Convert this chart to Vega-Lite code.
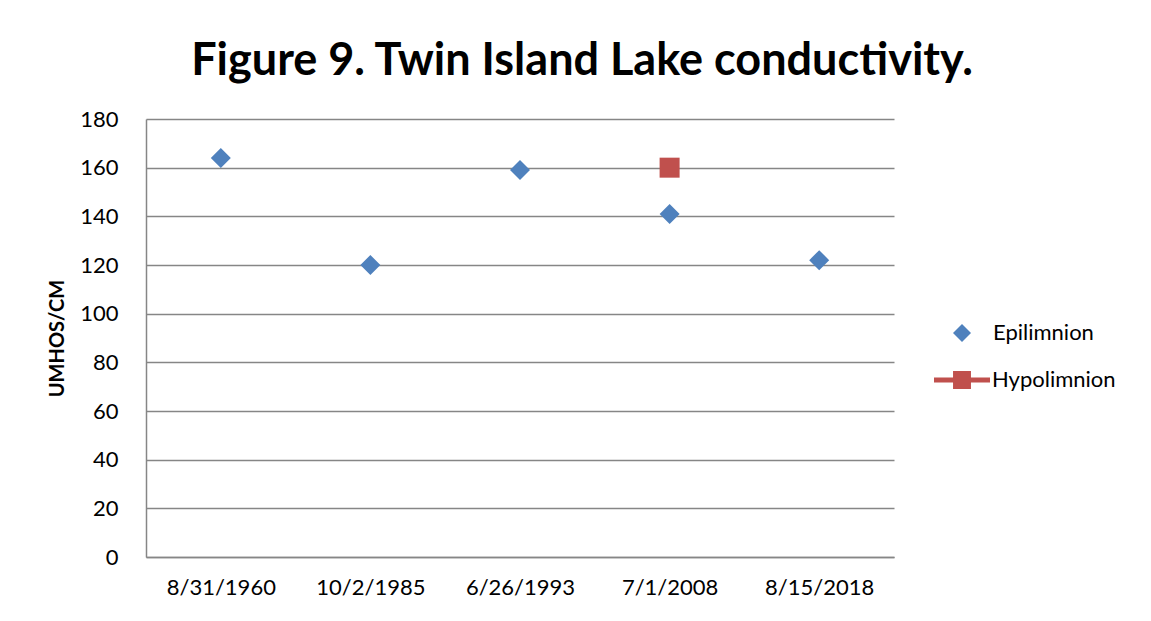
{
  "$schema": "https://vega.github.io/schema/vega-lite/v6.json",
  "width": 748,
  "height": 438,
  "autosize": "none",
  "padding": {"left": 146, "top": 119, "right": 257, "bottom": 64},
  "background": "white",
  "config": {"view": {"stroke": null}, "font": "Lato"},
  "title": {
    "text": "Figure 9. Twin Island Lake conductivity.",
    "font": "Lato",
    "fontSize": 45,
    "fontWeight": "bold",
    "color": "black",
    "anchor": "middle",
    "dx": 62,
    "offset": 24
  },
  "data": {
    "values": [
      {"date": "8/31/1960", "series": "Epilimnion", "value": 164},
      {"date": "10/2/1985", "series": "Epilimnion", "value": 120},
      {"date": "6/26/1993", "series": "Epilimnion", "value": 159},
      {"date": "7/1/2008", "series": "Epilimnion", "value": 141},
      {"date": "8/15/2018", "series": "Epilimnion", "value": 122},
      {"date": "7/1/2008", "series": "Hypolimnion", "value": 160}
    ]
  },
  "encoding": {
    "x": {
      "field": "date",
      "type": "nominal",
      "sort": ["8/31/1960", "10/2/1985", "6/26/1993", "7/1/2008", "8/15/2018"],
      "scale": {"type": "point", "padding": 0.5, "domain": ["8/31/1960", "10/2/1985", "6/26/1993", "7/1/2008", "8/15/2018"]},
      "axis": {
        "title": null,
        "labelAngle": 0,
        "labelFont": "Lato",
        "labelFontSize": 22,
        "labelColor": "black",
        "ticks": false,
        "tickSize": 0,
        "labelPadding": 20,
        "domainColor": "#868686",
        "domainWidth": 1.5,
        "grid": false
      }
    },
    "y": {
      "field": "value",
      "type": "quantitative",
      "scale": {"domain": [0, 180], "nice": false, "zero": true},
      "axis": {
        "title": "UMHOS/CM",
        "titleFont": "Lato",
        "titleFontSize": 20,
        "titleFontWeight": "bold",
        "titleColor": "black",
        "titlePadding": 12,
        "values": [0, 20, 40, 60, 80, 100, 120, 140, 160, 180],
        "labelFont": "Lato",
        "labelFontSize": 22,
        "labelColor": "black",
        "ticks": false,
        "tickSize": 0,
        "labelPadding": 28,
        "domainColor": "#868686",
        "domainWidth": 1.5,
        "grid": true,
        "gridColor": "#868686",
        "gridWidth": 1.5
      }
    }
  },
  "layer": [
    {
      "transform": [{"filter": "datum.series === 'Epilimnion'"}],
      "mark": {"type": "point", "filled": true, "shape": "diamond", "size": 400, "opacity": 1},
      "encoding": {
        "color": {
          "field": "series",
          "type": "nominal",
          "scale": {"domain": ["Epilimnion"], "range": ["#4F81BD"]},
          "legend": {
            "title": null,
            "orient": "none",
            "legendX": 805,
            "legendY": 203,
            "symbolType": "diamond",
            "symbolSize": 324,
            "symbolStrokeWidth": 0,
            "labelOffset": 20,
            "labelFont": "Lato",
            "labelFontSize": 22,
            "labelColor": "black",
            "padding": 0
          }
        }
      }
    },
    {
      "transform": [{"filter": "datum.series === 'Hypolimnion'"}],
      "mark": {"type": "point", "filled": true, "shape": "square", "size": 400, "opacity": 1},
      "encoding": {
        "color": {
          "field": "series",
          "type": "nominal",
          "scale": {"domain": ["Hypolimnion"], "range": ["#C0504D"]},
          "legend": {
            "title": null,
            "orient": "none",
            "legendX": 788,
            "legendY": 233,
            "symbolType": "M-1,-0.09H1V0.09H-1Z M-0.32,-0.32H0.32V0.32H-0.32Z",
            "symbolSize": 3136,
            "symbolStrokeWidth": 0,
            "labelOffset": 2,
            "labelFont": "Lato",
            "labelFontSize": 22,
            "labelColor": "black",
            "padding": 0
          }
        }
      }
    }
  ],
  "resolve": {"scale": {"color": "independent"}, "legend": {"color": "independent"}}
}
